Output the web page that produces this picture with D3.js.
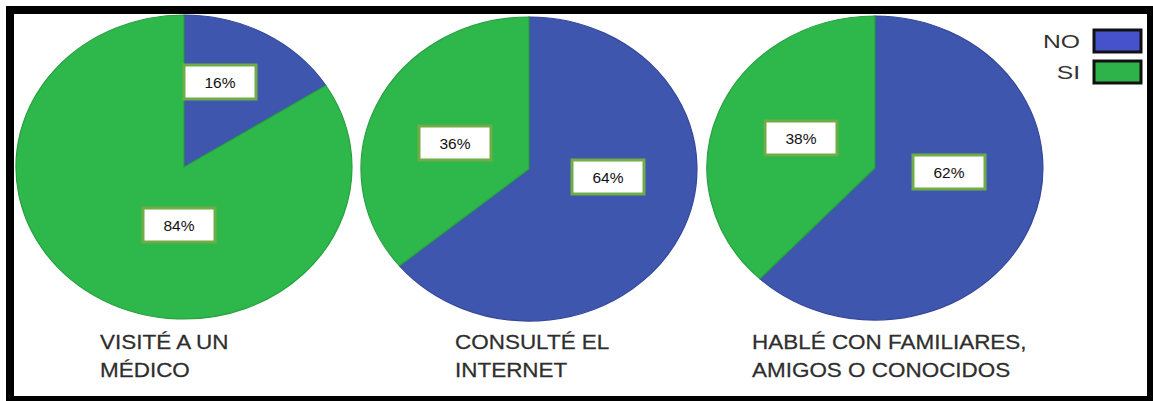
<!DOCTYPE html>
<html>
<head>
<meta charset="utf-8">
<script src="https://cdn.jsdelivr.net/npm/d3@7/dist/d3.min.js"></script>
<style>
  html, body { margin: 0; padding: 0; background: #fff; }
  svg { display: block; }
  text { font-family: "Liberation Sans", Arial, sans-serif; }
</style>
</head>
<body>
<svg id="chart" width="1153" height="401"></svg>
<script>
// Answers per question (percent of respondents)
const categories = ["NO", "SI"];
const questions = [
  ["VISITÉ A UN", "MÉDICO"],
  ["CONSULTÉ EL", "INTERNET"],
  ["HABLÉ CON FAMILIARES,", "AMIGOS O CONOCIDOS"]
];
const noValues = [16, 64, 62];
const siValues = [84, 36, 38];

// Layout
const W = 1153, H = 401;
const pieCx = [184, 529, 875];
const pieCy = [167, 169, 168];
const rx = 168, ry = 152;
// label box centre offsets from each pie centre, [NO, SI]
const labelOffsets = [
  [[36, -85], [-5, 58]],
  [[79, 8], [-74, -26]],
  [[74, 4], [-74, -30]]
];
const titleX = [100, 455, 752];

const svg = d3.select("#chart");

// frame
svg.append("rect").attr("x", 0).attr("y", 0).attr("width", W).attr("height", H).attr("fill", "#fff");
svg.append("rect").attr("x", 6).attr("y", 6).attr("width", W - 6).attr("height", H - 6).attr("fill", "#000");
svg.append("rect").attr("x", 14).attr("y", 14).attr("width", 1133).attr("height", 382).attr("fill", "#fff");

const color = d3.scaleOrdinal().domain(categories).range(["#3f56ae", "#2eb74b"]);
const edge = d3.scaleOrdinal().domain(categories).range(["#34479a", "#27a040"]);

const pie = d3.pie().sort(null).value(d => d.value);
const arc = d3.arc().innerRadius(0).outerRadius(1);

questions.forEach((q, i) => {
  const data = [
    { key: "NO", value: noValues[i] },
    { key: "SI", value: siValues[i] }
  ];
  const arcs = pie(data);
  const g = svg.append("g")
    .attr("transform", `translate(${pieCx[i]},${pieCy[i]}) scale(${rx},${ry})`);
  g.selectAll("path").data(arcs).join("path")
    .attr("d", arc)
    .attr("fill", d => color(d.data.key))
    .attr("stroke", d => edge(d.data.key))
    .attr("stroke-width", 1.2)
    .attr("vector-effect", "non-scaling-stroke");

  // value labels
  const lg = svg.append("g").attr("transform", `translate(${pieCx[i]},${pieCy[i]})`);
  arcs.forEach((a, j) => {
    const [ox, oy] = labelOffsets[i][j];
    lg.append("rect")
      .attr("x", ox - 36).attr("y", oy - 17)
      .attr("width", 72).attr("height", 34)
      .attr("fill", "#fff")
      .attr("stroke", "#70ad47")
      .attr("stroke-width", 3);
    lg.append("text")
      .attr("x", ox).attr("y", oy + 5.5)
      .attr("text-anchor", "middle")
      .attr("font-size", 15.5)
      .attr("fill", "#111")
      .text(a.data.value + "%");
  });

  // question title (type set slightly wide)
  const t = svg.append("text")
    .attr("transform", `translate(${titleX[i]},349) scale(1.07,1)`)
    .attr("font-size", 21)
    .attr("fill", "#2e2e2e")
    .attr("stroke", "#2e2e2e")
    .attr("stroke-width", 0.25);
  q.forEach((line, k) => {
    t.append("tspan").attr("x", 0).attr("y", k * 28).text(line);
  });
});

// legend
const legend = svg.append("g");
categories.forEach((c, k) => {
  const y0 = 29 + k * 31;
  legend.append("text")
    .attr("transform", `translate(1080,${y0 + 19}) scale(1.3,1)`)
    .attr("text-anchor", "end")
    .attr("font-size", 19)
    .attr("fill", "#333")
    .text(c);
  legend.append("rect")
    .attr("x", 1094).attr("y", y0 + 1)
    .attr("width", 47).attr("height", 22)
    .attr("fill", k === 0 ? "#4652cc" : "#2eb34a")
    .attr("stroke", "#111")
    .attr("stroke-width", 3);
});
</script>
</body>
</html>
